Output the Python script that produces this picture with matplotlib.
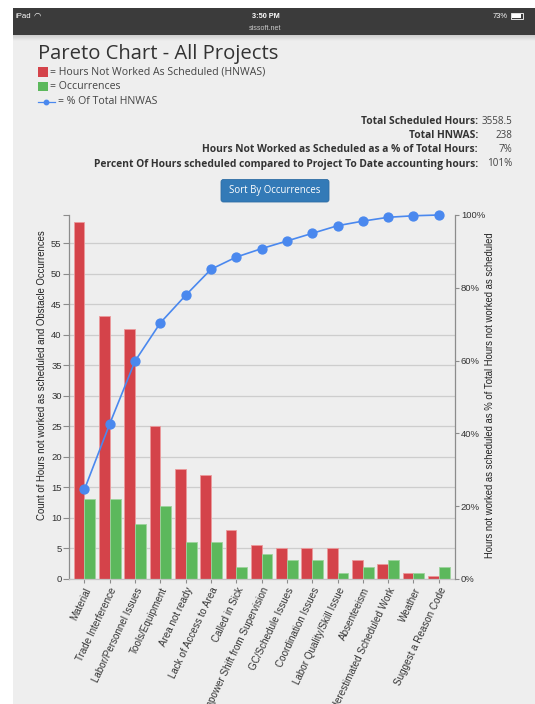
import matplotlib
matplotlib.use("Agg")
import matplotlib.pyplot as plt
import numpy as np
from matplotlib.patches import Rectangle, FancyBboxPatch

# ---- data ----
categories = [
    "Material", "Trade Interference", "Labor/Personnel Issues", "Tools/Equipment",
    "Area not ready", "Lack of Access to Area", "Called in Sick",
    "Manpower Shift from Supervision", "GC/Schedule Issues", "Coordination Issues",
    "Labor Quality/Skill Issue", "Absenteeism", "Underestimated Scheduled Work",
    "Weather", "Suggest a Reason Code",
]
hnwas_hours = [58.5, 43, 41, 25, 18, 17, 8, 5.5, 5, 5, 5, 3, 2.5, 1, 0.5]
occurrences = [13, 13, 9, 12, 6, 6, 2, 4, 3, 3, 1, 2, 3, 1, 2]
count_ticks = [0, 5, 10, 15, 20, 25, 30, 35, 40, 45, 50, 55]
pct_ticks = [0, 20, 40, 60, 80, 100]
summary_labels = [
    "Total Scheduled Hours:",
    "Total HNWAS:",
    "Hours Not Worked as Scheduled as a % of Total Hours:",
    "Percent Of Hours scheduled compared to Project To Date accounting hours:",
]
summary_values = ["3558.5", "238", "7%", "101%"]

# cumulative share of hours not worked as scheduled
hours = np.array(hnwas_hours, dtype=float)
cum_pct = np.cumsum(hours) / hours.sum() * 100

RED = "#d4434a"
GREEN = "#5cb85c"
BLUE = "#4a88ee"
PAGE = "#eeeeee"

W, H = 535, 704
fig = plt.figure(figsize=(W / 100, H / 100), dpi=100, facecolor="white")

# page layer in pixel coordinates
bg = fig.add_axes([0, 0, 1, 1], zorder=0)
bg.set_xlim(0, W)
bg.set_ylim(H, 0)
bg.axis("off")

bg.add_patch(Rectangle((13, 8), W - 13, H - 8, color=PAGE, lw=0))
# status bar
bg.add_patch(Rectangle((13, 8), W - 13, 27, color="#3b3b3b", lw=0))
shade = np.linspace(0.80, 0.933, 20).reshape(-1, 1)
bg.imshow(np.dstack([shade, shade, shade]), extent=(13, W, 41, 35), aspect="auto",
          interpolation="bilinear", zorder=1)
bg.text(15, 16, "iPad", color="white", fontsize=5.6, family="Liberation Sans",
        va="center", ha="left")
bg.text(34, 15.5, "\u25e0", color="white", fontsize=6, va="center", ha="left",
        family="DejaVu Sans")
bg.text(266, 16, "3:50 PM", color="white", fontsize=5.3, family="Liberation Sans",
        fontweight="bold", va="center", ha="center")
bg.text(265, 28.5, "sissoft.net", color="#c8c8c8", fontsize=5.2,
        family="Liberation Sans", va="center", ha="center")
bg.text(508, 16, "73%", color="white", fontsize=5.4, family="Liberation Sans",
        va="center", ha="right")
bg.add_patch(Rectangle((511, 12.5), 12, 6, facecolor="none", edgecolor="white", lw=0.6))
bg.add_patch(Rectangle((512, 13.5), 8.5, 4, color="white", lw=0))

# title
bg.text(37.5, 59.5, "Pareto Chart - All Projects", fontsize=14.6, family="Open Sans",
        color="#333333", va="baseline", ha="left")

# legend
bg.add_patch(Rectangle((37.5, 67.3), 10, 10, color=RED, lw=0))
bg.text(50.5, 72.3, "= Hours Not Worked As Scheduled (HNWAS)", fontsize=7.6,
        family="Open Sans", color="#444444", va="center", ha="left")
bg.add_patch(Rectangle((37.5, 81.7), 10, 9.5, color=GREEN, lw=0))
bg.text(50.5, 86.8, "= Occurrences", fontsize=7.6, family="Open Sans",
        color="#444444", va="center", ha="left")
bg.plot([37.5, 54.5], [101.5, 101.5], color=BLUE, lw=0.9)
bg.plot([46], [101.5], marker="o", ms=3.2, color=BLUE)
bg.text(57.5, 101.3, "= % Of Total HNWAS", fontsize=7.6, family="Open Sans",
        color="#444444", va="center", ha="left")

# summary block
row_y = [121.5, 135.7, 150, 164]
for lab, val, y in zip(summary_labels, summary_values, row_y):
    bg.text(478, y, lab, fontsize=7.4, family="Open Sans", fontweight="bold",
            color="#333333", va="center", ha="right")
    bg.text(512, y, val, fontsize=7.1, family="Open Sans", color="#444444",
            va="center", ha="right")

# sort button
bg.add_patch(FancyBboxPatch((221, 179.5), 108, 22.5,
                            boxstyle="round,pad=0,rounding_size=2.5",
                            facecolor="#337ab7", edgecolor="#2e6da4", lw=0.6))
bg.text(275, 191, "Sort By Occurrences", fontsize=6.9, family="Open Sans",
        color="white", va="center", ha="center")

# ---- chart ----
x0, x1, ytop, ybot = 69.3, 455.0, 215.0, 578.8
ax = fig.add_axes([x0 / W, 1 - ybot / H, (x1 - x0) / W, (ybot - ytop) / H], zorder=2)
ax.set_facecolor("none")
ax2 = ax.twinx()
ax2.set_zorder(3)

xpos = np.arange(len(categories))
bw = 0.428
ax.bar(xpos - bw / 2, hnwas_hours, width=bw, color=RED, edgecolor="#eb9a9c",
       lw=0.6, zorder=2)
ax.bar(xpos + bw / 2, occurrences, width=bw, color=GREEN, edgecolor="#9dd49d",
       lw=0.6, zorder=2)

ax.set_xlim(-0.6, len(categories) - 1 + 0.64)
ax.set_ylim(0, 59.6)
ax.set_yticks(count_ticks)
ax.set_yticks([59.6], minor=True)
ax.set_yticklabels([str(t) for t in count_ticks])
ax.yaxis.grid(True, color="#cdcdcd", lw=0.9)
ax.set_axisbelow(True)
ax.set_xticks(xpos)
ax.set_xticklabels(categories, rotation=64.5, ha="right", va="top",
                   rotation_mode="anchor", fontsize=7.1, family="Liberation Sans",
                   color="#333333")
for s in ("top", "right"):
    ax.spines[s].set_visible(False)
ax.spines["left"].set_color("#8c8c8c")
ax.spines["left"].set_linewidth(0.9)
ax.spines["bottom"].set_color("#c4c4c4")
ax.spines["bottom"].set_linewidth(0.9)
ax.tick_params(axis="y", which="both", length=4, width=0.8, color="#8c8c8c",
               pad=1.5, labelsize=6.8, labelcolor="#333333")
ax.tick_params(axis="x", length=3, width=0.8, color="#8c8c8c", pad=2)
for t in ax.get_yticklabels():
    t.set_family("Liberation Sans")

ax2.plot(xpos, cum_pct, color=BLUE, lw=1.2, marker="o", ms=6.4, zorder=4,
         clip_on=False)
ax2.set_ylim(0, 100)
ax2.set_yticks(pct_ticks)
ax2.set_yticklabels([f"{t}%" for t in pct_ticks])
for s in ("top", "left", "bottom"):
    ax2.spines[s].set_visible(False)
ax2.spines["right"].set_color("#8c8c8c")
ax2.spines["right"].set_linewidth(0.9)
ax2.tick_params(axis="y", length=2.8, width=0.8, color="#8c8c8c", pad=1.5,
                labelsize=6.8, labelcolor="#333333")
for t in ax2.get_yticklabels():
    t.set_family("Liberation Sans")

# axis titles
bg.text(42, 375, "Count of Hours not worked as scheduled and Obstacle Occurrences",
        rotation=90, fontsize=6.9, family="Liberation Sans", color="#222222",
        ha="center", va="center", rotation_mode="anchor")
bg.text(490, 395,
        "Hours not worked as scheduled as % of Total Hours not worked as scheduled",
        rotation=90, fontsize=6.85, family="Liberation Sans", color="#222222",
        ha="center", va="center", rotation_mode="anchor")

fig.savefig("out.png", dpi=100, facecolor="white")
